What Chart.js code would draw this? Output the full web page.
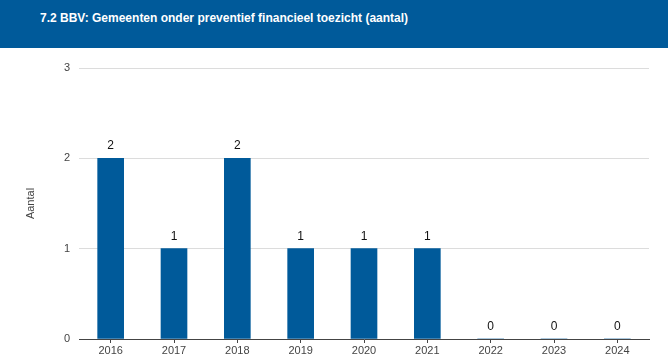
<!DOCTYPE html>
<html>
<head>
<meta charset="utf-8">
<script src="https://cdn.jsdelivr.net/npm/chart.js@4"></script>
<style>
    body { margin: 0; background: #fff; font-family: Arial, "Liberation Sans", sans-serif; }
    #header { position: absolute; left: 0; top: 0; width: 668px; height: 48px; background: #005a9a; }
    #header h1 { position: absolute; left: 40px; top: 11px; margin: 0; font-size: 12px; font-weight: bold; color: #fff; }
    #wrap { position: absolute; left: 0; top: 48px; width: 668px; height: 313px; }
</style>
</head>
<body>
<div id="header"><h1>7.2 BBV: Gemeenten onder preventief financieel toezicht (aantal)</h1></div>
<div id="wrap"><canvas id="myChart" width="668" height="313"></canvas></div>
<script>
var years = ["2016", "2017", "2018", "2019", "2020", "2021", "2022", "2023", "2024"];
var aantal = [2, 1, 2, 1, 1, 1, 0, 0, 0];
var yTicks = [0, 1, 2, 3];

const barLabels = {
    id: "barLabels",
    afterDatasetsDraw(chart) {
        const { ctx } = chart;
        const meta = chart.getDatasetMeta(0);
        ctx.save();
        ctx.font = "12px Arial, 'Liberation Sans', sans-serif";
        ctx.fillStyle = "#111";
        ctx.textAlign = "center";
        ctx.textBaseline = "alphabetic";
        meta.data.forEach((bar, i) => {
            ctx.fillText(String(aantal[i]), bar.x, bar.y - 9);
        });
        ctx.restore();
    }
};

new Chart(document.getElementById('myChart'), {
    type: 'bar',
    data: {
        labels: years,
        datasets: [{
            label: "Aantal",
            data: aantal,
            backgroundColor: "#005a9a",
            borderWidth: 0,
            barThickness: 26
        }]
    },
    options: {
        responsive: false,
        animation: false,
        layout: { padding: { top: 20, right: 19, left: 0, bottom: 0 } },
        plugins: {
            legend: { display: false },
            tooltip: { enabled: false }
        },
        scales: {
            x: {
                grid: { offset: false, drawOnChartArea: false, drawTicks: true, tickLength: 4, color: "#444" },
                border: { display: true, color: "#444", width: 1 },
                ticks: { color: "#444", font: { size: 11, family: "Arial, 'Liberation Sans', sans-serif" }, padding: 1, maxRotation: 0 },
                afterFit: function (scale) { scale.height = 22; }
            },
            y: {
                min: 0,
                max: 3,
                afterBuildTicks: function (scale) { scale.ticks = yTicks.map(v => ({ value: v })); },
                grid: { color: "#dcdcdc", drawTicks: false },
                border: { display: false },
                ticks: { color: "#444", font: { size: 11, family: "Arial, 'Liberation Sans', sans-serif" }, padding: 9 },
                title: { display: true, text: "Aantal", color: "#444", padding: { top: 24, bottom: 0 }, font: { size: 11, family: "Arial, 'Liberation Sans', sans-serif" } },
                afterFit: function (scale) { scale.width = 79; }
            }
        }
    },
    plugins: [barLabels]
});
</script>
</body>
</html>
